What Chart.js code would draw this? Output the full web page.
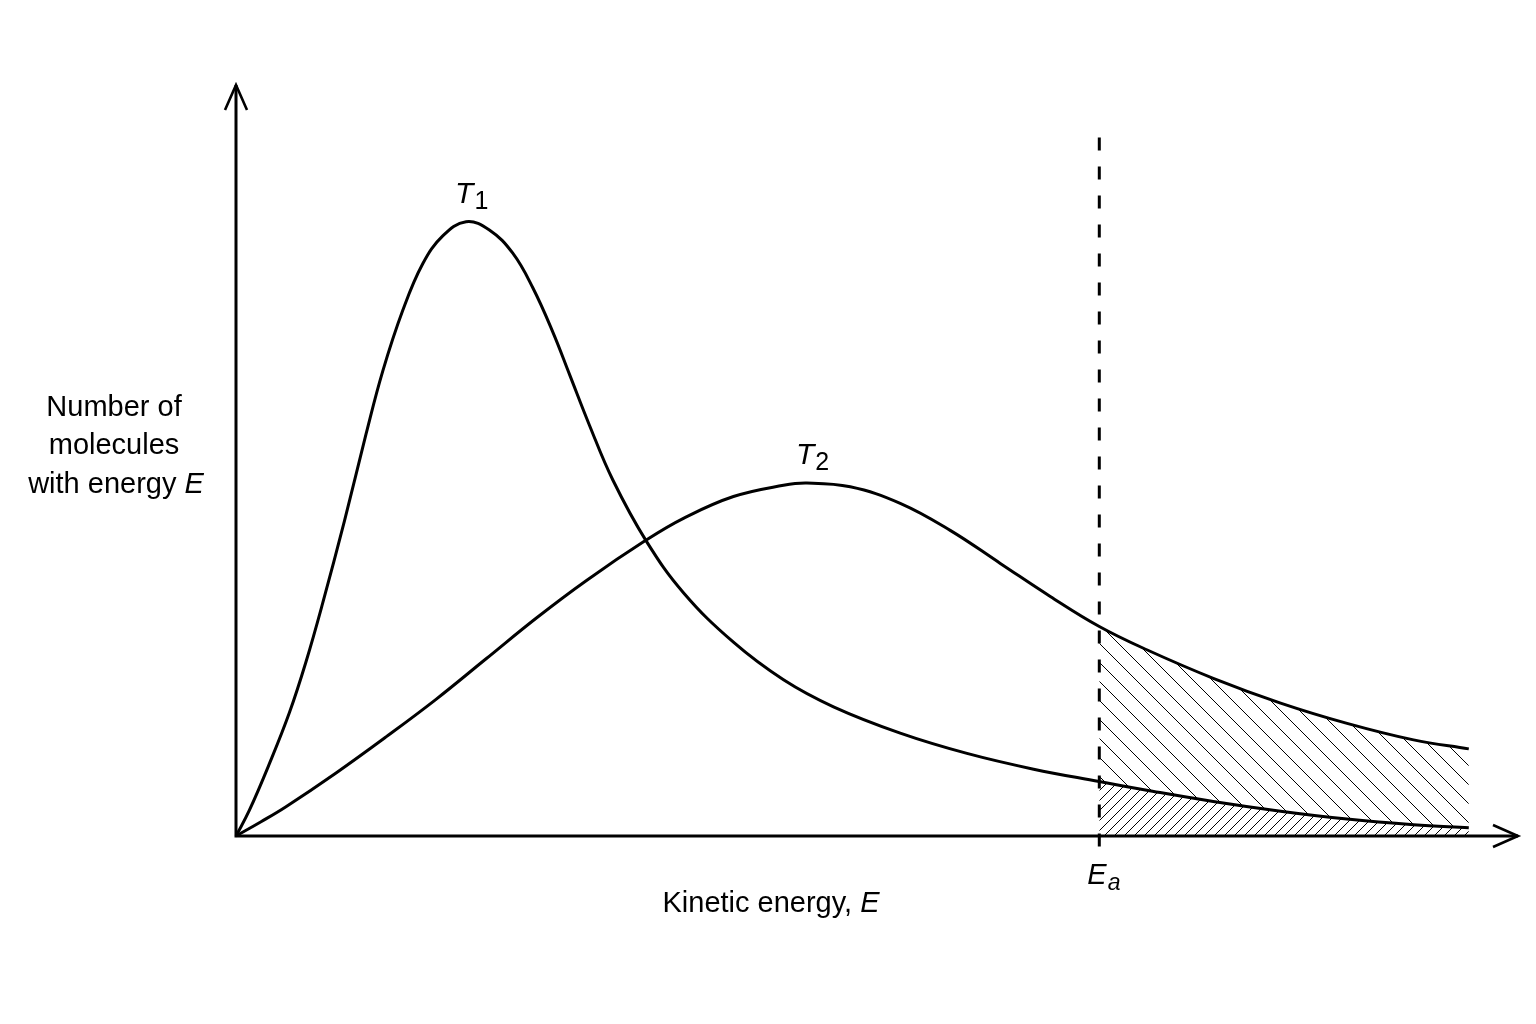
<!DOCTYPE html>
<html>
<head>
<meta charset="utf-8">
<script src="https://cdn.jsdelivr.net/npm/chart.js@4.4.1/dist/chart.umd.min.js"></script>
<style>
  html, body { margin: 0; padding: 0; background: #ffffff; }
  #wrap { width: 1536px; height: 1024px; }
</style>
</head>
<body>
<div id="wrap"><canvas id="c" width="1536" height="1024"></canvas></div>
<script>
// ---- data (arbitrary energy units, Ea = 10) ----
const energyT1 = [0, 0.154, 0.386, 0.618, 0.811, 1.004, 1.255, 1.506, 1.700, 1.932, 2.163, 2.395, 2.665, 2.935, 3.206, 3.438, 3.670, 3.862, 4.094, 4.365, 4.751, 5.183, 5.762, 6.342, 6.921, 7.694, 8.467, 9.239, 10, 10.55, 11.32, 12.10, 12.87, 13.64, 14.28];
const countT1  = [0, 3.4, 9.6, 16.4, 23.2, 31.0, 41.9, 53.5, 61.9, 70.0, 76.2, 79.9, 81.8, 80.7, 77.6, 73.0, 67.1, 61.5, 54.7, 47.4, 39.3, 32.4, 25.8, 20.8, 17.2, 13.7, 11.0, 8.9, 7.25, 6.1, 4.6, 3.3, 2.25, 1.5, 1.1];
const energyT2 = [0, 0.29, 0.579, 1.159, 1.738, 2.317, 2.897, 3.476, 4.056, 4.751, 5.183, 5.762, 6.342, 6.613, 7.115, 7.694, 8.273, 8.853, 9.432, 10, 10.55, 11.32, 12.10, 12.87, 13.64, 14.28];
const countT2  = [0, 1.9, 3.9, 8.4, 13.2, 18.2, 23.6, 29.0, 34.0, 39.4, 42.3, 45.2, 46.7, 47.0, 46.5, 44.3, 40.7, 36.3, 31.9, 27.9, 24.8, 21.0, 17.7, 15.0, 12.8, 11.6];
const activationEnergy = 10;
const seriesNames = ['T1', 'T2'];
const xMax = 14.85;
const yMax = 100;

// ---- build point lists ----
function pts(xs, ys) { return xs.map((x, i) => ({ x: x, y: ys[i] })); }
const t1 = pts(energyT1, countT1);
const t2 = pts(energyT2, countT2);
const t1Tail = t1.filter(p => p.x >= activationEnergy);
const t2Tail = t2.filter(p => p.x >= activationEnergy);

function hatch(size, dir, width) {
  const c = document.createElement('canvas');
  c.width = size; c.height = size;
  const g = c.getContext('2d');
  g.strokeStyle = '#000';
  g.lineWidth = width;
  g.beginPath();
  if (dir === 'back') { // "\\"
    g.moveTo(-size, -size); g.lineTo(2 * size, 2 * size);
    g.moveTo(-size, 0); g.lineTo(size, 2 * size);
    g.moveTo(0, -size); g.lineTo(2 * size, size);
  } else { // "/"
    g.moveTo(-size, 2 * size); g.lineTo(2 * size, -size);
    g.moveTo(-size, size); g.lineTo(size, -size);
    g.moveTo(0, 2 * size); g.lineTo(2 * size, 0);
  }
  g.stroke();
  return g.createPattern(c, 'repeat');
}
const ctx0 = document.getElementById('c').getContext('2d');
const denseHatch = hatch(10, 'fwd', 1);
const wideHatch = hatch(19, 'back', 1);

const FONT = '"Liberation Sans", Arial, Helvetica, sans-serif';

function drawSubText(ctx, x, y, main, sub, mainSize, subSize, subDrop) {
  ctx.font = 'italic ' + mainSize + 'px ' + FONT;
  ctx.fillText(main, x, y);
  const w = ctx.measureText(main).width;
  ctx.font = (sub.match(/[a-z]/) ? 'italic ' : '') + subSize + 'px ' + FONT;
  ctx.fillText(sub, x + w + 1, y + subDrop);
}

function mixedLine(ctx, cx, y, plain, ital, size) {
  ctx.font = size + 'px ' + FONT;
  const w1 = ctx.measureText(plain).width;
  ctx.font = 'italic ' + size + 'px ' + FONT;
  const w2 = ctx.measureText(ital).width;
  const x0 = cx - (w1 + w2) / 2;
  ctx.font = size + 'px ' + FONT;
  ctx.fillText(plain, x0, y);
  ctx.font = 'italic ' + size + 'px ' + FONT;
  ctx.fillText(ital, x0 + w1, y);
}

const overlay = {
  id: 'overlay',
  afterDatasetsDraw(chart) {
    const ctx = chart.ctx;
    const xs = chart.scales.x, ys = chart.scales.y;
    const ox = xs.getPixelForValue(0), oy = ys.getPixelForValue(0);
    const xe = xs.getPixelForValue(xMax), ye = ys.getPixelForValue(yMax);
    ctx.save();
    ctx.strokeStyle = '#000';
    ctx.fillStyle = '#000';
    ctx.lineCap = 'butt';
    // dashed Ea line
    const ex = xs.getPixelForValue(activationEnergy);
    ctx.lineWidth = 3;
    ctx.setLineDash([13, 16]);
    ctx.beginPath();
    ctx.moveTo(ex, ys.getPixelForValue(93));
    ctx.lineTo(ex, oy + 16);
    ctx.stroke();
    ctx.setLineDash([]);
    // axes
    ctx.lineWidth = 3;
    ctx.lineJoin = 'miter';
    ctx.beginPath();
    ctx.moveTo(ox, ye); ctx.lineTo(ox, oy); ctx.lineTo(xe, oy);
    ctx.stroke();
    ctx.lineWidth = 2.6;
    ctx.beginPath();
    ctx.moveTo(ox - 11, ye + 25); ctx.lineTo(ox, ye); ctx.lineTo(ox + 11, ye + 25);
    ctx.moveTo(xe - 25, oy - 11); ctx.lineTo(xe, oy); ctx.lineTo(xe - 25, oy + 11);
    ctx.stroke();
    // curve labels near peaks
    [t1, t2].forEach((d, i) => {
      const peak = d.reduce((a, b) => (b.y > a.y ? b : a));
      const px = xs.getPixelForValue(peak.x), py = ys.getPixelForValue(peak.y);
      drawSubText(ctx, px - 11, py - 19, 'T', seriesNames[i].slice(1), 30, 25, 6);
    });
    // Ea label
    drawSubText(ctx, ex - 12, oy + 48, 'E', 'a', 29, 23, 6);
    // axis titles
    mixedLine(ctx, 771, 912, 'Kinetic energy, ', 'E', 29);
    ctx.font = '29px ' + FONT;
    ctx.textAlign = 'center';
    ctx.fillText('Number of', 114, 416);
    ctx.fillText('molecules', 114, 454);
    ctx.textAlign = 'left';
    mixedLine(ctx, 116, 493, 'with energy ', 'E', 29);
    ctx.restore();
  }
};

const whiteBg = {
  id: 'whiteBg',
  beforeDraw(chart) {
    const c = chart.ctx;
    c.save(); c.fillStyle = '#fff'; c.fillRect(0, 0, chart.width, chart.height); c.restore();
  }
};

const smooth = { tension: 0.4, cubicInterpolationMode: 'default' };

new Chart(ctx0, {
  type: 'line',
  data: {
    datasets: [
      Object.assign({ label: 'T1 tail', data: t1Tail, fill: 'origin', backgroundColor: denseHatch, borderWidth: 0, pointRadius: 0, order: 4 }, smooth),
      Object.assign({ label: 'T2 tail', data: t2Tail, fill: 0, backgroundColor: wideHatch, borderWidth: 0, pointRadius: 0, order: 3 }, smooth),
      Object.assign({ label: 'T1', data: t1, borderColor: '#000', borderWidth: 3, pointRadius: 0, fill: false, order: 2 }, smooth),
      Object.assign({ label: 'T2', data: t2, borderColor: '#000', borderWidth: 3, pointRadius: 0, fill: false, order: 1 }, smooth)
    ]
  },
  options: {
    responsive: false,
    animation: false,
    devicePixelRatio: 1,
    layout: { padding: { left: 236, right: 18, top: 85, bottom: 188 } },
    scales: {
      x: { type: 'linear', min: 0, max: xMax, display: false },
      y: { type: 'linear', min: 0, max: yMax, display: false }
    },
    plugins: { legend: { display: false }, tooltip: { enabled: false } },
    clip: false
  },
  plugins: [whiteBg, overlay]
});
</script>
</body>
</html>
